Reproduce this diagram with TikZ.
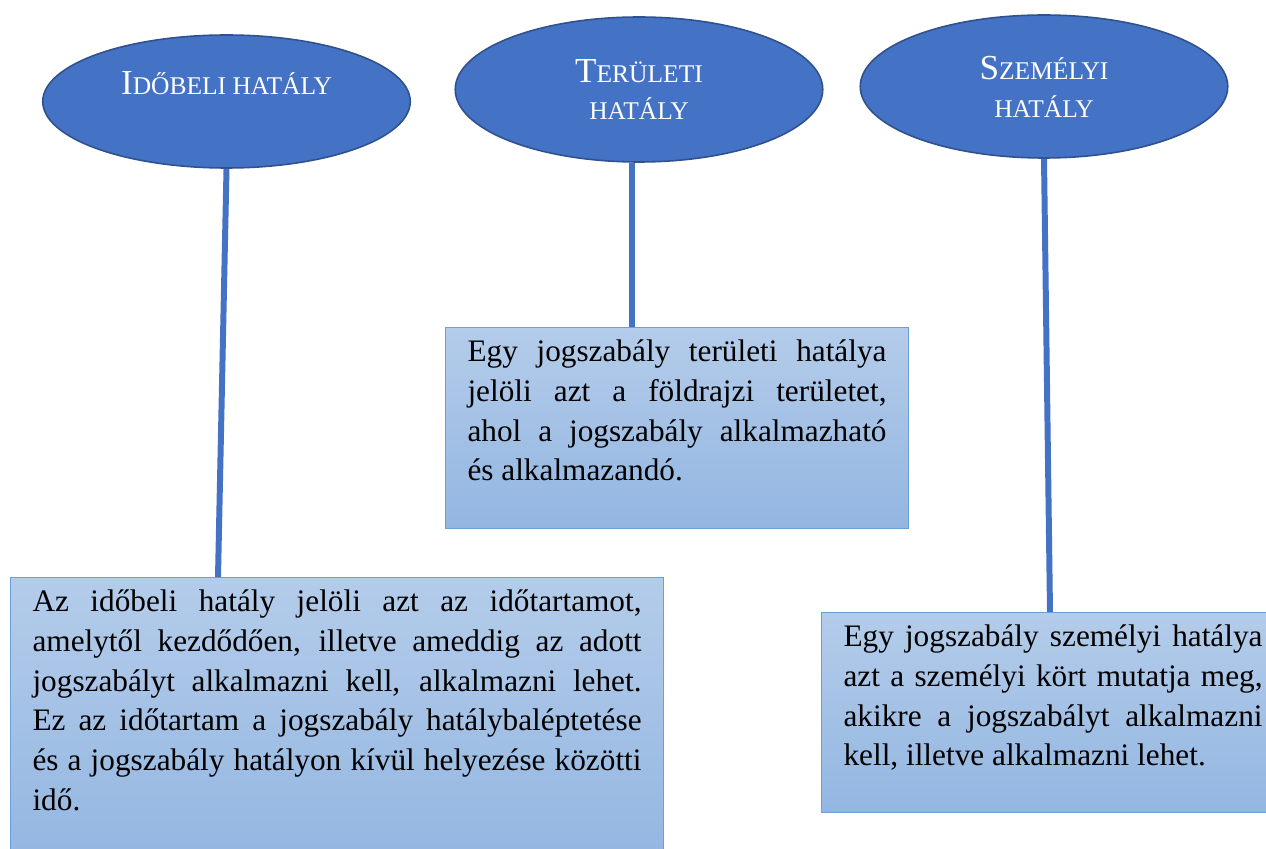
\documentclass[tikz,border=0pt]{standalone}
\usepackage{fontspec}
\setmainfont{Liberation Serif}
\usepackage{tikz}
\usetikzlibrary{shapes.geometric}
\definecolor{ovalblue}{HTML}{4472C4}
\definecolor{ovalrim}{HTML}{2F528F}
\definecolor{boxtop}{HTML}{B4CCEA}
\definecolor{boxbottom}{HTML}{93B6E1}
\definecolor{boxrim}{HTML}{6A9FD8}
\newcommand{\capsc}[2]{{\fontsize{20}{21.5}\selectfont #1}{\fontsize{14.5}{21.5}\selectfont #2}}
\tikzstyle{oval} = [ellipse, draw=ovalrim, line width=0.9pt, fill=ovalblue, text=white, inner sep=0pt, minimum width=7.35cm, align=center, font=\fontsize{20}{21.5}\selectfont]
\tikzstyle{bag} = [rectangle, draw=boxrim, line width=0.6pt, top color=boxtop, bottom color=boxbottom, anchor=north west, inner xsep=0.44cm, inner ysep=0.24cm, align=justify, font=\fontsize{17.8}{22.7}\selectfont]
\tikzstyle{stem} = [draw=ovalblue, line width=3.4pt]

\begin{document}
\begin{tikzpicture}
  \useasboundingbox (0,0) rectangle (25.32,-16.98);
  \node (a) at (4.53,-2.03) [oval, minimum height=2.66cm] {\capsc{I}{DŐBELI HATÁLY}\\ \mbox{}};
  \node (b) at (12.78,-1.79) [oval, minimum height=2.9cm] {\capsc{T}{ERÜLETI}\\ \capsc{}{HATÁLY}};
  \node (c) at (20.88,-1.73) [oval, minimum height=2.86cm] {\capsc{S}{ZEMÉLYI}\\ \capsc{}{HATÁLY}};
  \node (d) at (0.2,-11.54) [bag, text width=12.18cm, text depth=4.84cm] {Az időbeli hatály jelöli azt az időtartamot,\linebreak amelytől kezdődően, illetve ameddig az adott\linebreak jogszabályt alkalmazni kell, alkalmazni lehet.\linebreak Ez az időtartam a jogszabály hatálybaléptetése\linebreak és a jogszabály hatályon kívül helyezése közötti\linebreak idő.};
  \node (e) at (8.9,-6.54) [bag, text width=8.38cm, text depth=3.1cm] {Egy jogszabály területi hatálya\linebreak jelöli azt a földrajzi területet,\linebreak ahol a jogszabály alkalmazható\linebreak és alkalmazandó.};
  \node (f) at (16.42,-12.24) [bag, text width=8.38cm, text depth=3.08cm] {Egy jogszabály személyi hatálya\linebreak azt a személyi kört mutatja meg,\linebreak akikre a jogszabályt alkalmazni\linebreak kell, illetve alkalmazni lehet.};
  \draw [stem] (a.south) -- ([xshift=4.16cm]d.north west);
  \draw [stem] ([xshift=-0.14cm]b.south) -- ([xshift=3.74cm]e.north west);
  \draw [stem] (c.south) -- ([xshift=4.58cm]f.north west);
\end{tikzpicture}
\end{document}
